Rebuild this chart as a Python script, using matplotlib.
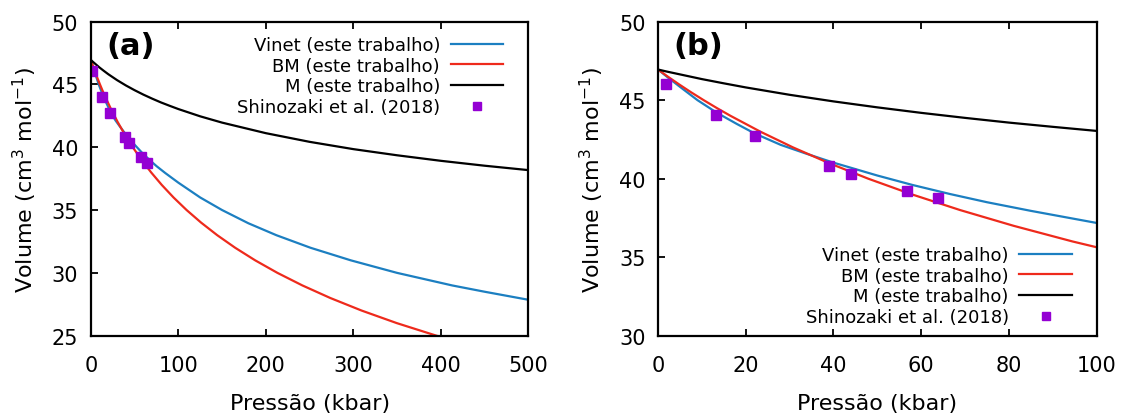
import matplotlib
matplotlib.use('Agg')
import matplotlib.pyplot as plt

# curves (pressure in kbar, volume in cm3/mol)
p_vinet = [0, 2, 5, 9, 13.4, 18, 22.1, 28, 33.5, 40, 50, 58, 66.6, 75, 85, 100, 125, 150, 180, 212, 251, 297, 350, 413, 450, 500]
v_vinet = [46.95, 46.5, 45.85, 45.0, 44.2, 43.48, 42.87, 42.15, 41.62, 41.02, 40.2, 39.6, 39.02, 38.5, 37.95, 37.18, 36.0, 35.0, 33.95, 33.0, 32.0, 31.0, 30.0, 29.0, 28.5, 27.86]

p_bm = [0, 2.23, 4.83, 7.55, 10.41, 13.4, 16.54, 23.29, 30.71, 38.9, 47.92, 57.88, 68.88, 81.05, 94.52, 109.45, 126.02, 144.43, 164.93, 187.77, 213.26, 241.77, 273.68, 309.48, 349.72, 395, 419.8]
v_bm = [46.95, 46.5, 46.0, 45.5, 45.0, 44.5, 44.0, 43.0, 42.0, 41.0, 40.0, 39.0, 38.0, 37.0, 36.0, 35.0, 34.0, 33.0, 32.0, 31.0, 30.0, 29.0, 28.0, 27.0, 26.0, 25.0, 24.5]

p_m = [0, 2, 5, 10, 15, 20, 30, 40, 50, 60, 70, 80, 90, 100, 125, 150, 200, 250, 300, 350, 400, 450, 500]
v_m = [46.95, 46.82, 46.64, 46.34, 46.07, 45.81, 45.34, 44.92, 44.54, 44.19, 43.87, 43.57, 43.3, 43.04, 42.46, 41.96, 41.12, 40.43, 39.85, 39.36, 38.92, 38.53, 38.18]

# Shinozaki et al. (2018)
p_exp = [1.8, 13.3, 22.1, 39.1, 44.1, 56.8, 63.9]
v_exp = [46.04, 44.03, 42.73, 40.81, 40.32, 39.2, 38.75]

c_vinet = '#1c7fc1'
c_bm = '#ee2a1c'
c_exp = '#9400d3'

fig = plt.figure(figsize=(11.23, 4.14), dpi=100)
ax1 = fig.add_axes([0.0809, 0.1867, 0.3896, 0.7587])
ax2 = fig.add_axes([0.5859, 0.1867, 0.3906, 0.7587])

panels = [
    (ax1, 500, 25, range(0, 501, 100), range(25, 51, 5), '(a)', 'upper right', (0.959, 0.977)),
    (ax2, 100, 30, range(0, 101, 20), range(30, 51, 5), '(b)', 'lower right', (0.96, 0.008)),
]

for ax, xmax, ylo, xt, yt, tag, loc, anchor in panels:
    ax.plot(p_vinet, v_vinet, color=c_vinet, lw=1.6, label='Vinet (este trabalho)')
    ax.plot(p_bm, v_bm, color=c_bm, lw=1.6, label='BM (este trabalho)')
    ax.plot(p_m, v_m, color='black', lw=1.6, label='M (este trabalho)')
    ax.plot(p_exp, v_exp, 's', color=c_exp, ms=7.5, label='Shinozaki et al. (2018)')
    ax.set_xlim(0, xmax)
    ax.set_ylim(ylo, 50)
    ax.set_xticks(list(xt))
    ax.set_yticks(list(yt))
    ax.tick_params(direction='in', length=5, width=1.3, labelsize=15, top=True, right=False)
    ax.tick_params(axis='x', pad=14)
    ax.tick_params(axis='y', pad=9)
    for s in ax.spines.values():
        s.set_linewidth(1.6)
    ax.set_xlabel('Pressão (kbar)', fontsize=16, labelpad=13)
    ax.set_ylabel('Volume (cm$^3$ mol$^{-1}$)', fontsize=16, labelpad=9)
    ax.text(0.035, 0.97, tag, transform=ax.transAxes, fontsize=22, fontweight='bold',
            va='top', ha='left')
    leg = ax.legend(loc=loc, bbox_to_anchor=anchor, frameon=False, fontsize=13,
                    markerfirst=False, handlelength=2.9, handletextpad=0.6,
                    labelspacing=0.15, borderaxespad=0, markerscale=0.85)
    for t in leg.get_texts():
        t.set_ha('right')

fig.savefig('out.png', dpi=100)
